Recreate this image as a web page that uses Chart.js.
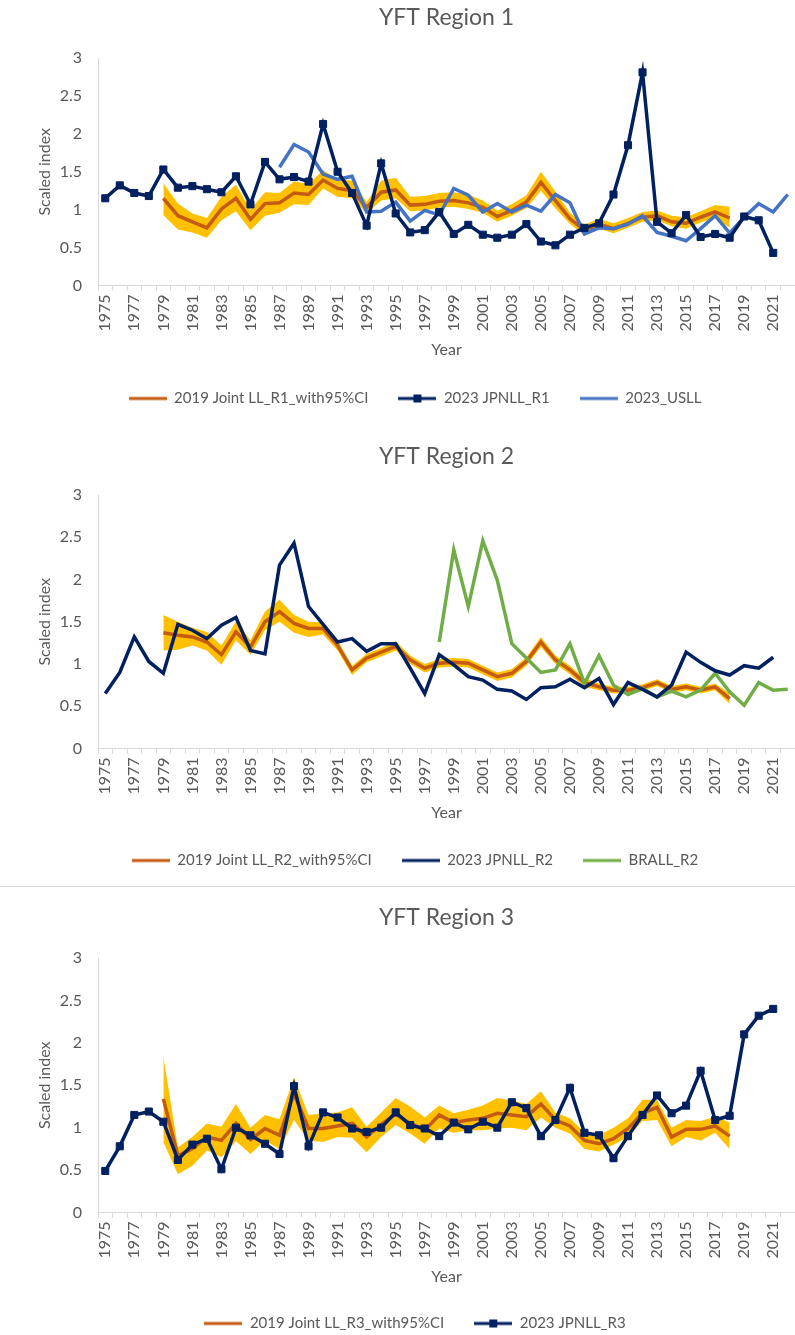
<!DOCTYPE html>
<html lang="en">

<head>
    <meta charset="UTF-8">
    <title>YFT Regions</title>
    <style>
        body { margin: 0; background: #fff; }
        #wrap { position: relative; width: 795px; height: 1335px; overflow: hidden; }
        .box { position: absolute; left: 0; }
        #sep { position: absolute; left: 0; top: 886px; width: 795px; height: 1px; background: #d9d9d9; }
    </style>
</head>

<body>
    <div id="wrap">
        <div class="box" style="top:0"><canvas id="chart1" width="830" height="416"></canvas></div>
        <div class="box" style="top:425px"><canvas id="chart2" width="830" height="453"></canvas></div>
        <div id="sep"></div>
        <div class="box" style="top:888px"><canvas id="chart3" width="830" height="453"></canvas></div>
    </div>

    <script src="https://cdn.jsdelivr.net/npm/chart.js"></script>

    <script>
        // categories
        const years = ['1975', '1976', '1977', '1978', '1979', '1980', '1981', '1982', '1983', '1984',
            '1985', '1986', '1987', '1988', '1989', '1990', '1991', '1992', '1993', '1994',
            '1995', '1996', '1997', '1998', '1999', '2000', '2001', '2002', '2003', '2004',
            '2005', '2006', '2007', '2008', '2009', '2010', '2011', '2012', '2013', '2014',
            '2015', '2016', '2017', '2018', '2019', '2020', '2021', '2022']
        const yTicks = [0, 0.5, 1, 1.5, 2, 2.5, 3]

        // region 1
        const jointR1 = [null, null, null, null, 1.15, 0.92, 0.84, 0.76, 1.01, 1.15,
            0.87, 1.08, 1.09, 1.22, 1.20, 1.39, 1.28, 1.25, 1.03, 1.23,
            1.26, 1.06, 1.07, 1.11, 1.12, 1.09, 1.03, 0.91, 0.99, 1.10,
            1.36, 1.12, 0.88, 0.73, 0.81, 0.75, 0.82, 0.90, 0.92, 0.84,
            0.82, 0.90, 0.97, 0.89, null, null, null, null]
        const upperR1 = [null, null, null, null, 1.35, 1.08, 0.95, 0.89, 1.17, 1.33,
            1.00, 1.23, 1.22, 1.37, 1.34, 1.52, 1.40, 1.38, 1.10, 1.38,
            1.42, 1.17, 1.18, 1.22, 1.23, 1.20, 1.12, 0.99, 1.07, 1.19,
            1.50, 1.24, 0.96, 0.80, 0.88, 0.82, 0.89, 0.97, 0.99, 0.92,
            0.90, 0.98, 1.06, 1.04, null, null, null, null]
        const lowerR1 = [null, null, null, null, 0.93, 0.74, 0.70, 0.63, 0.86, 0.98,
            0.73, 0.92, 0.96, 1.07, 1.06, 1.28, 1.17, 1.15, 0.95, 1.12,
            1.15, 0.98, 0.99, 1.03, 1.04, 1.01, 0.96, 0.84, 0.92, 1.02,
            1.25, 1.02, 0.81, 0.66, 0.75, 0.69, 0.76, 0.84, 0.86, 0.78,
            0.75, 0.83, 0.89, 0.76, null, null, null, null]
        const jpnllR1 = [1.15, 1.32, 1.22, 1.18, 1.53, 1.29, 1.31, 1.27, 1.23, 1.44,
            1.07, 1.63, 1.40, 1.43, 1.37, 2.13, 1.50, 1.22, 0.79, 1.61,
            0.95, 0.70, 0.73, 0.97, 0.68, 0.80, 0.67, 0.63, 0.67, 0.81,
            0.58, 0.53, 0.67, 0.76, 0.82, 1.20, 1.85, 2.81, 0.84, 0.69,
            0.93, 0.64, 0.68, 0.63, 0.91, 0.86, 0.43, null]
        const usllR1 = [null, null, null, null, null, null, null, null, null, null,
            null, null, 1.56, 1.86, 1.76, 1.47, 1.40, 1.44, 0.97, 0.98,
            1.10, 0.85, 0.99, 0.93, 1.28, 1.19, 0.97, 1.08, 0.97, 1.06,
            0.98, 1.20, 1.09, 0.68, 0.76, 0.75, 0.81, 0.92, 0.70, 0.65,
            0.59, 0.75, 0.92, 0.69, 0.90, 1.08, 0.97, 1.20]

        // region 2
        const jointR2 = [null, null, null, null, 1.37, 1.34, 1.32, 1.26, 1.11, 1.38,
            1.20, 1.50, 1.62, 1.48, 1.42, 1.42, 1.22, 0.93, 1.07, 1.14,
            1.21, 1.05, 0.95, 1.01, 1.02, 1.01, 0.93, 0.85, 0.89, 1.03,
            1.26, 1.05, 0.93, 0.78, 0.73, 0.69, 0.69, 0.72, 0.78, 0.70,
            0.73, 0.69, 0.73, 0.59, null, null, null, null]
        const upperR2 = [null, null, null, null, 1.58, 1.50, 1.43, 1.38, 1.22, 1.50,
            1.28, 1.62, 1.76, 1.58, 1.50, 1.49, 1.28, 0.98, 1.12, 1.19,
            1.27, 1.10, 1.00, 1.06, 1.07, 1.06, 0.98, 0.90, 0.94, 1.08,
            1.32, 1.10, 0.98, 0.83, 0.77, 0.73, 0.73, 0.76, 0.82, 0.74,
            0.77, 0.73, 0.77, 0.65, null, null, null, null]
        const lowerR2 = [null, null, null, null, 1.16, 1.17, 1.22, 1.16, 0.99, 1.28,
            1.11, 1.40, 1.50, 1.37, 1.32, 1.35, 1.16, 0.87, 1.02, 1.09,
            1.16, 1.00, 0.90, 0.96, 0.97, 0.96, 0.88, 0.80, 0.84, 0.98,
            1.20, 1.00, 0.88, 0.73, 0.69, 0.65, 0.65, 0.68, 0.74, 0.66,
            0.69, 0.65, 0.69, 0.53, null, null, null, null]
        const jpnllR2 = [0.65, 0.90, 1.32, 1.03, 0.89, 1.47, 1.40, 1.30, 1.46, 1.55,
            1.16, 1.12, 2.17, 2.43, 1.68, 1.47, 1.26, 1.30, 1.15, 1.24,
            1.24, 0.95, 0.65, 1.11, 0.99, 0.85, 0.81, 0.70, 0.68, 0.58,
            0.72, 0.73, 0.82, 0.72, 0.83, 0.52, 0.78, 0.70, 0.61, 0.75,
            1.14, 1.02, 0.92, 0.87, 0.98, 0.95, 1.08, null]
        const brallR2 = [null, null, null, null, null, null, null, null, null, null,
            null, null, null, null, null, null, null, null, null, null,
            null, null, null, 1.26, 2.35, 1.68, 2.46, 1.99, 1.24, 1.07,
            0.90, 0.93, 1.24, 0.77, 1.10, 0.75, 0.64, 0.71, 0.61, 0.68,
            0.61, 0.69, 0.89, 0.67, 0.51, 0.78, 0.69, 0.70]

        // region 3
        const jointR3 = [null, null, null, null, 1.34, 0.67, 0.75, 0.89, 0.85, 1.05,
            0.86, 0.99, 0.91, 1.40, 0.99, 0.99, 1.02, 1.05, 0.89, 1.04,
            1.16, 1.05, 0.97, 1.15, 1.06, 1.09, 1.11, 1.17, 1.15, 1.13,
            1.28, 1.09, 1.02, 0.85, 0.81, 0.87, 0.99, 1.17, 1.24, 0.89,
            0.98, 0.98, 1.02, 0.90, null, null, null, null]
        const upperR3 = [null, null, null, null, 1.84, 0.77, 0.89, 1.05, 1.01, 1.28,
            1.00, 1.15, 1.10, 1.59, 1.15, 1.17, 1.18, 1.24, 1.01, 1.18,
            1.35, 1.25, 1.12, 1.26, 1.17, 1.21, 1.26, 1.35, 1.32, 1.28,
            1.43, 1.18, 1.11, 0.95, 0.91, 1.00, 1.11, 1.33, 1.33, 1.00,
            1.09, 1.08, 1.13, 1.06, null, null, null, null]
        const lowerR3 = [null, null, null, null, 0.83, 0.45, 0.55, 0.73, 0.65, 0.84,
            0.69, 0.85, 0.75, 1.09, 0.85, 0.83, 0.89, 0.88, 0.71, 0.89,
            1.03, 0.93, 0.81, 0.99, 0.94, 0.97, 0.97, 0.99, 1.00, 0.97,
            1.12, 1.00, 0.93, 0.75, 0.72, 0.80, 0.89, 1.08, 1.09, 0.78,
            0.89, 0.85, 0.94, 0.75, null, null, null, null]
        const jpnllR3 = [0.49, 0.78, 1.15, 1.19, 1.07, 0.62, 0.80, 0.87, 0.51, 1.00,
            0.91, 0.81, 0.69, 1.49, 0.78, 1.18, 1.12, 0.99, 0.95, 1.00,
            1.18, 1.03, 0.99, 0.90, 1.06, 0.98, 1.07, 1.00, 1.30, 1.23,
            0.90, 1.09, 1.47, 0.94, 0.91, 0.64, 0.90, 1.15, 1.38, 1.17,
            1.26, 1.67, 1.09, 1.14, 2.10, 2.32, 2.40, null]

        // estilos
        const FONT = 'Lato, "Open Sans", sans-serif'
        const GREY = '#595959'
        const AXIS = '#D9D9D9'
        const ORANGE = '#C55A11'
        const GOLD = '#FFC000'
        const NAVY = '#002060'
        const BLUE = '#4472C4'
        const GREEN = '#70AD47'

        function legendIcon(color, marker) {
            const c = document.createElement('canvas')
            c.width = 38
            c.height = 10
            const g = c.getContext('2d')
            g.strokeStyle = color
            g.lineWidth = 3
            g.beginPath()
            g.moveTo(0, 5)
            g.lineTo(38, 5)
            g.stroke()
            if (marker) {
                g.fillStyle = color
                g.fillRect(15, 1, 8, 8)
            }
            return c
        }

        function line(label, data, color, marker, order) {
            return {
                label: label, data: data, borderColor: color, backgroundColor: color,
                borderWidth: 3.5, tension: 0, fill: false, order: order, marker: marker,
                pointStyle: 'rect', pointRadius: marker ? 5 : 0, pointBorderWidth: 1, pointHoverRadius: 0
            }
        }

        function band(upper, lower) {
            return [
                { data: upper, borderColor: 'transparent', borderWidth: 1, pointRadius: 0, backgroundColor: GOLD, fill: '+1', order: 4 },
                { data: lower, borderColor: 'transparent', borderWidth: 1, pointRadius: 0, backgroundColor: GOLD, fill: false, order: 5 }
            ]
        }

        // p: top of the canvas on the page, then page y of title, plot top, plot bottom, legend centre
        function makeChart(id, title, datasets, p) {
            const font = { family: FONT, size: 16 }
            const titleLh = 23 * 1.2
            const axisH = p.legend - p.plotBottom - 37.5
            return new Chart(document.getElementById(id), {
                type: 'line',
                data: { labels: years, datasets: datasets },
                options: {
                    responsive: false,
                    animation: false,
                    events: [],
                    layout: { padding: 0 },
                    plugins: {
                        tooltip: { enabled: false },
                        title: {
                            display: true, text: title, color: GREY, fullSize: false,
                            font: { family: FONT, size: 23, weight: 'normal' },
                            padding: { top: p.title - p.top - titleLh / 2, bottom: p.plotTop - p.title - titleLh / 2 }
                        },
                        legend: {
                            position: 'bottom',
                            labels: {
                                usePointStyle: true, pointStyleWidth: 38, padding: 30, color: GREY,
                                font: { family: FONT, size: 15 },
                                generateLabels: chart => chart.data.datasets.filter(d => d.label).map(d => ({
                                    text: d.label,
                                    datasetIndex: chart.data.datasets.indexOf(d),
                                    pointStyle: legendIcon(d.borderColor, d.marker),
                                    fontColor: GREY, fillStyle: 'transparent', strokeStyle: 'transparent', lineWidth: 0, hidden: false
                                }))
                            }
                        }
                    },
                    scales: {
                        x: {
                            type: 'category', offset: true,
                            grid: { offset: true, drawOnChartArea: false, drawTicks: true, tickLength: 5, color: AXIS },
                            border: { color: AXIS },
                            ticks: {
                                autoSkip: false, minRotation: 90, maxRotation: 90, padding: 4, color: GREY, font: font,
                                callback: function (v, i) { return i % 2 === 0 ? this.getLabelForValue(v) : '' }
                            },
                            title: { display: true, text: 'Year', color: GREY, font: font, padding: { top: 0, bottom: axisH - 73.6 } },
                            afterFit: s => { s.height = axisH }
                        },
                        y: {
                            min: yTicks[0], max: yTicks[yTicks.length - 1],
                            afterBuildTicks: s => { s.ticks = yTicks.map(v => ({ value: v })) },
                            grid: { display: false, drawTicks: false },
                            border: { color: AXIS },
                            ticks: { padding: 16, color: GREY, font: font, callback: v => String(v) },
                            title: { display: true, text: 'Scaled index', color: GREY, font: font, padding: { top: 35, bottom: 0 } },
                            afterFit: s => { s.width = 98 }
                        },
                        // empty right axis, only keeps the plot right edge at 795
                        pad: {
                            type: 'linear', position: 'right', display: true,
                            grid: { display: false, drawTicks: false }, border: { display: false }, ticks: { display: false },
                            afterFit: s => { s.width = 35 }
                        }
                    }
                }
            })
        }

        makeChart('chart1', 'YFT Region 1', [
            line('2019 Joint LL_R1_with95%CI', jointR1, ORANGE, false, 3),
            line('2023 JPNLL_R1', jpnllR1, NAVY, true, 1),
            line('2023_USLL', usllR1, BLUE, false, 2),
            ...band(upperR1, lowerR1)
        ], { top: 0, title: 18, plotTop: 58, plotBottom: 285, legend: 398 })

        makeChart('chart2', 'YFT Region 2', [
            line('2019 Joint LL_R2_with95%CI', jointR2, ORANGE, false, 3),
            line('2023 JPNLL_R2', jpnllR2, NAVY, false, 1),
            line('BRALL_R2', brallR2, GREEN, false, 2),
            ...band(upperR2, lowerR2)
        ], { top: 425, title: 457, plotTop: 495, plotBottom: 748, legend: 860 })

        makeChart('chart3', 'YFT Region 3', [
            line('2019 Joint LL_R3_with95%CI', jointR3, ORANGE, false, 3),
            line('2023 JPNLL_R3', jpnllR3, NAVY, true, 1),
            ...band(upperR3, lowerR3)
        ], { top: 888, title: 918, plotTop: 958, plotBottom: 1212, legend: 1323 })
    </script>

</body>

</html>
